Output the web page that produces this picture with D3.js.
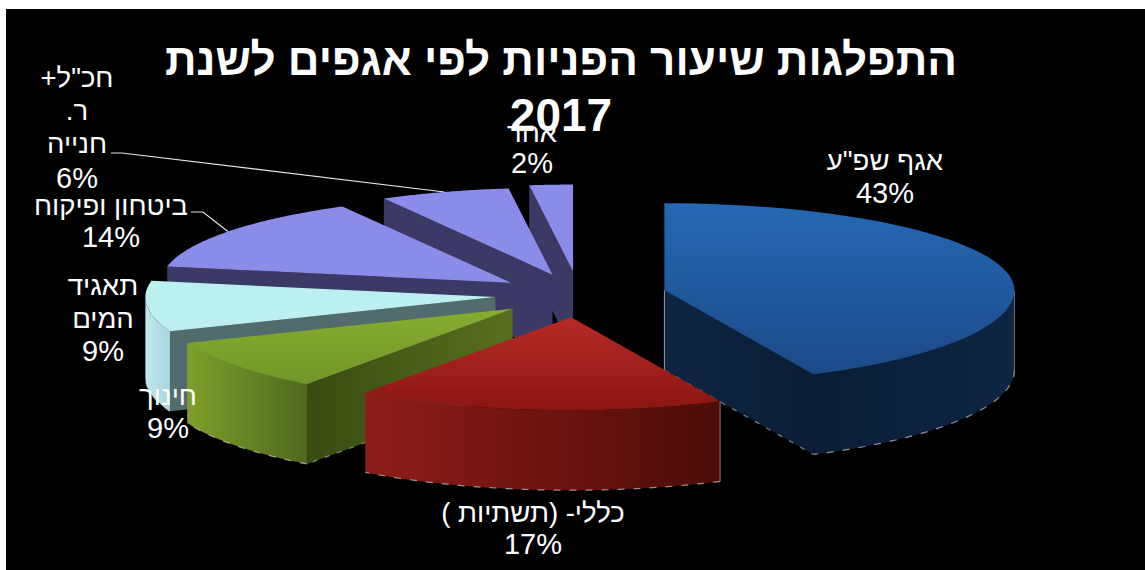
<!DOCTYPE html>
<html lang="he">
<head>
<meta charset="utf-8">
<title>התפלגות שיעור הפניות לפי אגפים לשנת 2017</title>
<script src="https://cdn.jsdelivr.net/npm/d3@7"></script>
<style>
  html, body { margin: 0; padding: 0; background: #fff; overflow: hidden; }
  svg { display: block; }
  text { font-family: "Liberation Sans", Arial, sans-serif; fill: #fff; direction: rtl; text-anchor: middle; }
</style>
</head>
<body>
<script>
// Share of inquiries per department, 2017 (percent), clockwise from twelve o'clock.
const shares = [43, 17, 9, 9, 14, 6, 2];
const labelLines = [
  ['אגף שפ"ע', '43%'],
  ['כללי- (תשתיות )', '17%'],
  ['חינוך', '9%'],
  ['תאגיד', 'המים', '9%'],
  ['ביטחון ופיקוח', '14%'],
  ['חכ"ל+', 'ר.', 'חנייה', '6%'],
  ['אחר', '2%']
];
const titleLines = ['התפלגות שיעור הפניות לפי אגפים לשנת', '2017'];
const titleSizes = [44, 46];

// How far each wedge is pulled away from the centre.
const explode = [0.25, 0.24, 0.24, 0.24, 0.24, 0.245, 0.27];

// Face colours: [start, end] of each gradient.
const topColours = [['#2668b4', '#1b4a88'], ['#b62b27', '#8c1512'], ['#86ad30', '#739728'],
                    ['#bcf0f0', '#bcf0f0'], ['#8b8bea', '#8b8bea'], ['#8b8bea', '#8b8bea'], ['#8b8bea', '#8b8bea']];
const rimColours = [['#0a1d36', '#0d2542'], ['#8e1c18', '#4c0c08'], ['#7f9f2a', '#4f681e'],
                    ['#bfe9ef', '#a8d6de'], ['#3b3a66', '#3b3a66'], ['#3b3a66', '#3b3a66'], ['#3b3a66', '#3b3a66']];
const wallColours = [['#0e2642', '#0a1d36'], ['#6a1410', '#6a1410'], ['#384c10', '#586f1f'],
                     ['#526b6c', '#526b6c'], ['#3b3a66', '#3b3a66'], ['#3b3a66', '#3b3a66'], ['#3b3a66', '#3b3a66']];
// Painter's order: back wedges first, nearest wedge last.
const paintOrder = [6, 5, 4, 3, 2, 0, 1];

// Text placement: centre x and the baselines of each label line.
const labelX = [885, 533, 168, 103, 111, 77, 532];
const labelY = [[170, 203], [522, 554], [405, 438], [295, 328, 361], [215, 247], [87, 120, 153, 188], [142, 173]];
const labelSize = 27.5, percentSize = 29;
// Leader lines start beside these labels and end on the wedge rim.
const leaders = [{ slice: 4, x: 191, y: 212, run: 12 }, { slice: 5, x: 111, y: 153, run: 11 }];

const W = 1145, H = 570;
const svg = d3.select('body').append('svg').attr('width', W).attr('height', H);
const defs = svg.append('defs');

svg.append('rect').attr('x', 6).attr('y', 9).attr('width', W - 6).attr('height', H - 9).attr('fill', '#000');

// Tilted pie: unit-circle polar coordinates map to the screen through these scales.
const cy = 295;
const sx = d3.scaleLinear().domain([-1, 1]).range([579 - 350, 579 + 350]);
const syBack = d3.scaleLinear().domain([0, 1]).range([cy, cy - 87]);
const syFront = d3.scaleLinear().domain([-1, 0]).range([cy + 93, cy]);
const sy = v => (v >= 0 ? syBack(v) : syFront(v));
const depth = 80;

const pie = d3.pie().sort(null).value(d => d).startAngle(0).endAngle(2 * Math.PI);
const arcs = pie(shares);

function project(angle, radius, off) {
  return [sx(radius * Math.sin(angle) + off[0]), sy(radius * Math.cos(angle)) + sy(off[1]) - cy];
}
const offsetOf = (a, i) => {
  const mid = (a.startAngle + a.endAngle) / 2;
  return [explode[i] * Math.sin(mid), explode[i] * Math.cos(mid)];
};
const line = d3.line();
const arcSamples = (a0, a1) => d3.range(0, 61).map(k => a0 + (a1 - a0) * k / 60);

function gradient(id, colours, vertical) {
  const g = defs.append('linearGradient').attr('id', id)
    .attr('x1', 0).attr('y1', 0).attr('x2', vertical ? 0 : 1).attr('y2', vertical ? 1 : 0);
  g.append('stop').attr('offset', 0).attr('stop-color', colours[0]);
  g.append('stop').attr('offset', 1).attr('stop-color', colours[1]);
  return `url(#${id})`;
}

const layer = svg.append('g').attr('class', 'pie');

function verticalEdge(g, p, opacity) {
  g.append('line').attr('x1', p[0]).attr('x2', p[0]).attr('y1', p[1]).attr('y2', p[1] + depth)
    .attr('stroke', '#d8c8c8').attr('stroke-width', 1).attr('opacity', opacity);
}

paintOrder.forEach(i => {
  const a = arcs[i], off = offsetOf(a, i);
  const g = layer.append('g').attr('class', 'slice');
  const apex = project(0, 0, off);
  const apexBottom = [apex[0], apex[1] + depth];
  const wallFill = gradient(`wall${i}`, wallColours[i], false);

  // Radial side walls, only the ones turned towards the viewer.
  [[a.startAngle, Math.sin(a.startAngle) < -1e-6], [a.endAngle, Math.sin(a.endAngle) > 1e-6]].forEach(([t, visible]) => {
    if (!visible) return;
    const p = project(t, 1, off);
    g.append('path').attr('fill', wallFill)
      .attr('d', line([apex, p, [p[0], p[1] + depth], apexBottom]) + 'Z');
    g.append('path').attr('fill', 'none').attr('stroke', '#c9c9c9').attr('stroke-width', 1.2)
      .attr('stroke-dasharray', '5 8').attr('opacity', i === 0 || i === 2 ? 0.6 : 0)
      .attr('d', line([apexBottom, [p[0], p[1] + depth]]));
  });

  // Outer wall: only the part of the rim that faces the viewer.
  const r0 = Math.max(a.startAngle, Math.PI / 2), r1 = Math.min(a.endAngle, 3 * Math.PI / 2);
  if (r1 > r0) {
    const upper = arcSamples(r0, r1).map(t => project(t, 1, off));
    const lower = upper.map(p => [p[0], p[1] + depth]);
    g.append('path').attr('fill', gradient(`rim${i}`, rimColours[i], false))
      .attr('d', line(upper.concat(lower.slice().reverse())) + 'Z');
    // Pale, broken highlight along the floor of the wedge.
    g.append('path').attr('fill', 'none').attr('stroke', '#c9c9c9').attr('stroke-width', 1.2)
      .attr('stroke-dasharray', '7 9').attr('opacity', 0.7).attr('d', line(lower));
  }

  // Pale vertical edges on the big blue and red wedges.
  if (i === 0) {
    verticalEdge(g, apex, 0.75);
    verticalEdge(g, project(Math.PI / 2, 1, off), 0.5);
  }
  if (i === 1) verticalEdge(g, project(a.startAngle, 1, off), 0.6);

  // Top face.
  const rimPts = arcSamples(a.startAngle, a.endAngle).map(t => project(t, 1, off));
  g.append('path').attr('fill', gradient(`top${i}`, topColours[i], true))
    .attr('d', line([apex].concat(rimPts)) + 'Z');
});

// Leader lines.
leaders.forEach(l => {
  const a = arcs[l.slice], mid = (a.startAngle + a.endAngle) / 2;
  const end = project(mid, 1, offsetOf(a, l.slice));
  svg.append('path').attr('fill', 'none').attr('stroke', '#e6e6e6').attr('stroke-width', 1.2)
    .attr('d', line([[l.x, l.y], [l.x + l.run, l.y], end]));
});

// Title, then data labels on top of it.
svg.append('g').selectAll('text').data(titleLines).join('text')
  .attr('x', 561).attr('y', (d, i) => 75 + i * 56)
  .attr('font-size', (d, i) => titleSizes[i]).attr('font-weight', 700).text(d => d);

labelLines.forEach((lines, i) => {
  const g = svg.append('g').attr('class', 'label');
  lines.forEach((t, k) => {
    g.append('text').attr('x', labelX[i]).attr('y', labelY[i][k])
      .attr('font-size', k === lines.length - 1 ? percentSize : labelSize).text(t);
  });
});
</script>
</body>
</html>
